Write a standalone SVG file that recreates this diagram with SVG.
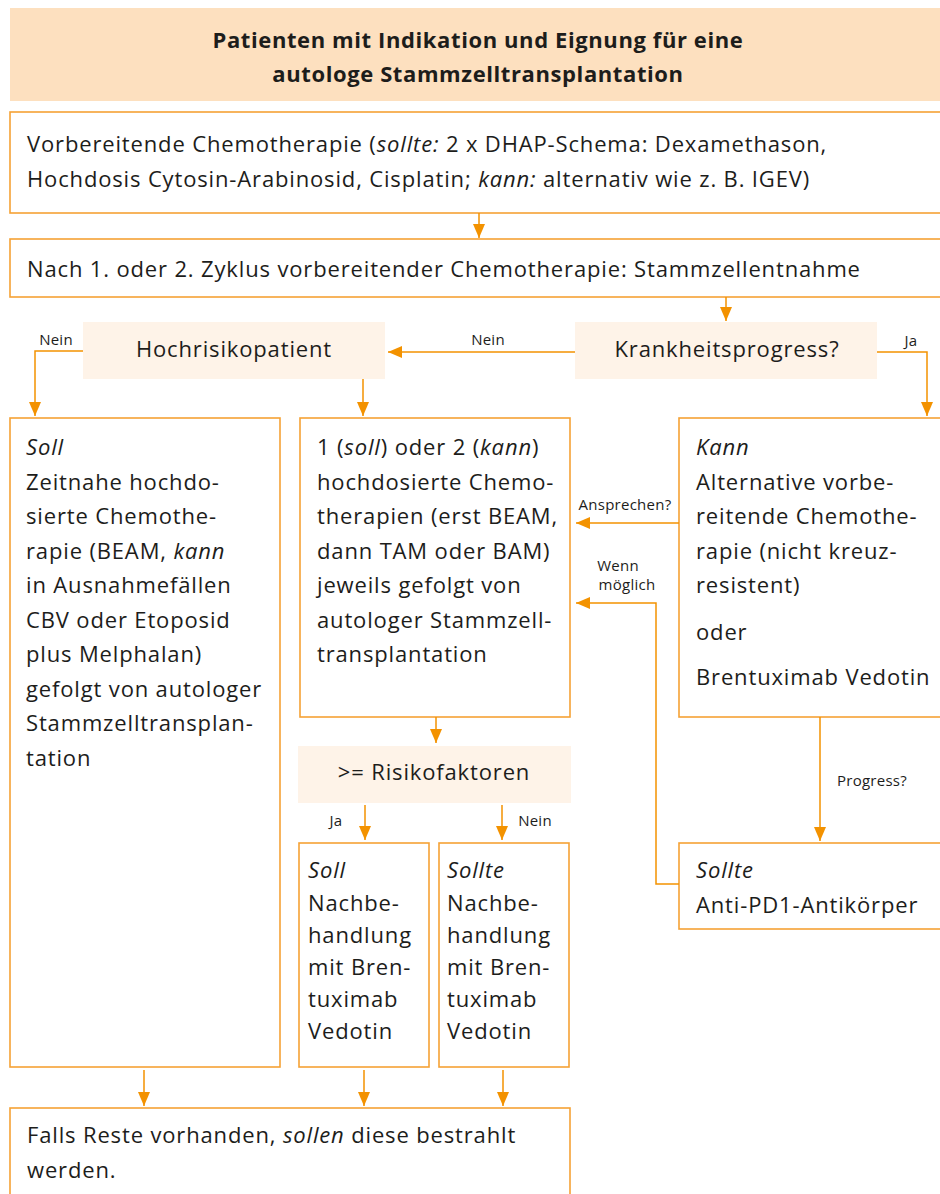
<svg xmlns="http://www.w3.org/2000/svg" width="940" height="1194" viewBox="0 0 940 1194">
<style>
.t{font-family:"Open Sans","Noto Sans","Liberation Sans",sans-serif;font-size:22px;letter-spacing:0.85px;fill:#1d1d1b}
.h{font-family:"Open Sans","Noto Sans","Liberation Sans",sans-serif;font-size:22px;letter-spacing:0.6px;font-weight:bold;fill:#1d1d1b;text-anchor:middle}
.l{font-family:"Open Sans","Noto Sans","Liberation Sans",sans-serif;font-size:15px;letter-spacing:0.25px;fill:#1d1d1b}
.i{font-style:italic}
.box{fill:#ffffff;stroke:#f5a235;stroke-width:1.6}
.dec{fill:#fef3e8}
.hdr{fill:#fde0bf}
.c{fill:none;stroke:#f39200;stroke-width:1.5}
</style>
<defs>
<marker id="ah" markerUnits="userSpaceOnUse" markerWidth="14" markerHeight="12" refX="14" refY="6" orient="auto">
<path d="M0,0 L14,6 L0,12 z" fill="#f39200"/>
</marker>
</defs>

<g id="header">
<rect class="hdr" x="10" y="8" width="932" height="93"/>
<text class="h" x="478" y="48">Patienten mit Indikation und Eignung für eine</text>
<text class="h" x="478" y="82">autologe Stammzelltransplantation</text>
</g>

<g id="n1">
<rect class="box" x="10" y="112" width="934" height="101"/>
<text class="t" x="27" y="152">Vorbereitende Chemotherapie (<tspan class="i">sollte:</tspan> 2 x DHAP-Schema: Dexamethason,</text>
<text class="t" x="27" y="187">Hochdosis Cytosin-Arabinosid, Cisplatin; <tspan class="i">kann:</tspan> alternativ wie z. B. IGEV)</text>
</g>

<g id="n2">
<rect class="box" x="10" y="239" width="934" height="58"/>
<text class="t" x="27" y="277">Nach 1. oder 2. Zyklus vorbereitender Chemotherapie: Stammzellentnahme</text>
</g>

<g id="n3">
<rect class="dec" x="575" y="322" width="302" height="57"/>
<text class="t" x="727" y="357" text-anchor="middle">Krankheitsprogress?</text>
</g>

<g id="n4">
<rect class="dec" x="83" y="322" width="302" height="57"/>
<text class="t" x="234" y="357" text-anchor="middle">Hochrisikopatient</text>
</g>

<g id="n5">
<rect class="box" x="10" y="418" width="270" height="649"/>
<text class="t" x="26" y="455"><tspan class="i">Soll</tspan></text>
<text class="t" x="26" y="490">Zeitnahe hochdo-</text>
<text class="t" x="26" y="524">sierte Chemothe-</text>
<text class="t" x="26" y="559">rapie (BEAM, <tspan class="i">kann</tspan></text>
<text class="t" x="26" y="593">in Ausnahmefällen</text>
<text class="t" x="26" y="628">CBV oder Etoposid</text>
<text class="t" x="26" y="662">plus Melphalan)</text>
<text class="t" x="26" y="697">gefolgt von autologer</text>
<text class="t" x="26" y="731">Stammzelltransplan-</text>
<text class="t" x="26" y="766">tation</text>
</g>

<g id="n6">
<rect class="box" x="300" y="418" width="270" height="299"/>
<text class="t" x="317" y="455">1 (<tspan class="i">soll</tspan>) oder 2 (<tspan class="i">kann</tspan>)</text>
<text class="t" x="317" y="490">hochdosierte Chemo-</text>
<text class="t" x="317" y="524">therapien (erst BEAM,</text>
<text class="t" x="317" y="559">dann TAM oder BAM)</text>
<text class="t" x="317" y="593">jeweils gefolgt von</text>
<text class="t" x="317" y="628">autologer Stammzell-</text>
<text class="t" x="317" y="662">transplantation</text>
</g>

<g id="n7">
<rect class="box" x="679" y="418" width="265" height="299"/>
<text class="t" x="696" y="455"><tspan class="i">Kann</tspan></text>
<text class="t" x="696" y="490">Alternative vorbe-</text>
<text class="t" x="696" y="524">reitende Chemothe-</text>
<text class="t" x="696" y="559">rapie (nicht kreuz-</text>
<text class="t" x="696" y="593">resistent)</text>
<text class="t" x="696" y="640">oder</text>
<text class="t" x="696" y="685">Brentuximab Vedotin</text>
</g>

<g id="n8">
<rect class="box" x="679" y="843" width="265" height="86"/>
<text class="t" x="696" y="878"><tspan class="i">Sollte</tspan></text>
<text class="t" x="696" y="913">Anti-PD1-Antikörper</text>
</g>

<g id="n9">
<rect class="dec" x="298" y="746" width="273" height="57"/>
<text class="t" x="434" y="780" text-anchor="middle">&gt;= Risikofaktoren</text>
</g>

<g id="n10">
<rect class="box" x="299" y="843" width="130" height="224"/>
<text class="t" x="308" y="878"><tspan class="i">Soll</tspan></text>
<text class="t" x="308" y="911">Nachbe-</text>
<text class="t" x="308" y="943">handlung</text>
<text class="t" x="308" y="975">mit Bren-</text>
<text class="t" x="308" y="1007">tuximab</text>
<text class="t" x="308" y="1039">Vedotin</text>
</g>

<g id="n11">
<rect class="box" x="439" y="843" width="130" height="224"/>
<text class="t" x="447" y="878"><tspan class="i">Sollte</tspan></text>
<text class="t" x="447" y="911">Nachbe-</text>
<text class="t" x="447" y="943">handlung</text>
<text class="t" x="447" y="975">mit Bren-</text>
<text class="t" x="447" y="1007">tuximab</text>
<text class="t" x="447" y="1039">Vedotin</text>
</g>

<g id="n12">
<rect class="box" x="10" y="1108" width="560" height="100"/>
<text class="t" x="27" y="1143">Falls Reste vorhanden, <tspan class="i">sollen</tspan> diese bestrahlt</text>
<text class="t" x="27" y="1178">werden.</text>
</g>

<g id="connectors">
<line class="c" x1="479" y1="213" x2="479" y2="238" marker-end="url(#ah)"/>
<line class="c" x1="726" y1="297" x2="726" y2="321" marker-end="url(#ah)"/>
<line class="c" x1="575" y1="352" x2="388" y2="352" marker-end="url(#ah)"/>
<polyline class="c" points="877,352 927,352 927,416" marker-end="url(#ah)"/>
<polyline class="c" points="83,351 35,351 35,416" marker-end="url(#ah)"/>
<line class="c" x1="363" y1="379" x2="363" y2="416" marker-end="url(#ah)"/>
<line class="c" x1="679" y1="523" x2="576" y2="523" marker-end="url(#ah)"/>
<polyline class="c" points="679,884 656,884 656,603 576,603" marker-end="url(#ah)"/>
<line class="c" x1="820" y1="717" x2="820" y2="841" marker-end="url(#ah)"/>
<line class="c" x1="436" y1="717" x2="436" y2="743" marker-end="url(#ah)"/>
<line class="c" x1="365" y1="805" x2="365" y2="840" marker-end="url(#ah)"/>
<line class="c" x1="502" y1="805" x2="502" y2="840" marker-end="url(#ah)"/>
<line class="c" x1="144" y1="1070" x2="144" y2="1106" marker-end="url(#ah)"/>
<line class="c" x1="364" y1="1070" x2="364" y2="1106" marker-end="url(#ah)"/>
<line class="c" x1="503" y1="1070" x2="503" y2="1106" marker-end="url(#ah)"/>
<text class="l" x="56" y="345" text-anchor="middle">Nein</text>
<text class="l" x="488" y="345" text-anchor="middle">Nein</text>
<text class="l" x="911" y="346" text-anchor="middle">Ja</text>
<text class="l" x="625" y="510" text-anchor="middle">Ansprechen?</text>
<text class="l" x="618" y="571" text-anchor="middle">Wenn</text>
<text class="l" x="627" y="590" text-anchor="middle">möglich</text>
<text class="l" x="872" y="786" text-anchor="middle">Progress?</text>
<text class="l" x="336" y="826" text-anchor="middle">Ja</text>
<text class="l" x="535" y="826" text-anchor="middle">Nein</text>
</g>
</svg>
